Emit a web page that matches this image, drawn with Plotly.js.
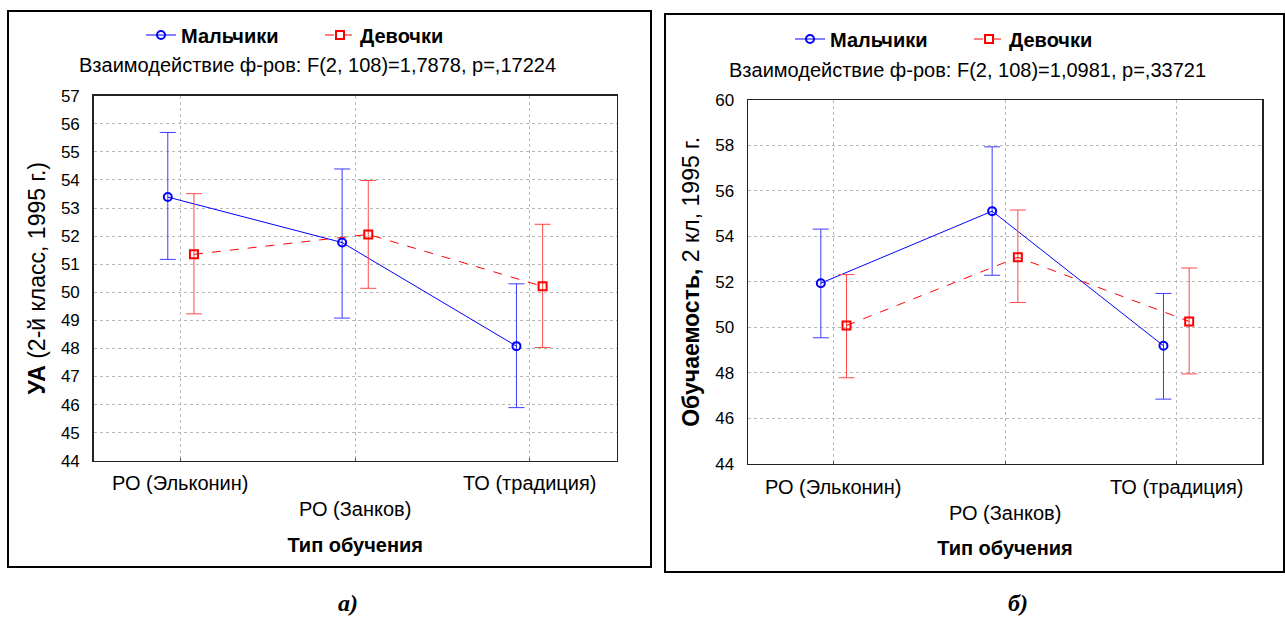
<!DOCTYPE html>
<html>
<head>
<meta charset="utf-8">
<script src="https://cdn.plot.ly/plotly-3.0.1.min.js"></script>
<style>html,body{margin:0;padding:0;background:#fff;}#chart{width:1285px;height:620px;}</style>
</head>
<body>
<div id="chart"></div>
<script>
// ---- data ----
const categories = ['РО (Эльконин)', 'РО (Занков)', 'ТО (традиция)'];
const seriesNames = ['Мальчики', 'Девочки'];

// Panel a) УА (2-й класс, 1995 г.)
const boysUA     = [53.39, 51.77, 48.08];
const boysUAHi   = [55.69, 54.39, 50.30];
const boysUALo   = [51.17, 49.08, 45.89];
const girlsUA    = [51.35, 52.06, 50.21];
const girlsUAHi  = [53.51, 53.98, 52.42];
const girlsUALo  = [49.23, 50.14, 48.03];

// Panel б) Обучаемость, 2 кл, 1995 г.
const boysOb     = [51.94, 55.11, 49.19];
const boysObHi   = [54.32, 57.94, 51.49];
const boysObLo   = [49.54, 52.29, 46.84];
const girlsOb    = [50.08, 53.08, 50.26];
const girlsObHi  = [52.32, 55.16, 52.61];
const girlsObLo  = [47.78, 51.09, 47.95];

const subtitleA = 'Взаимодействие ф-ров: F(2, 108)=1,7878, p=,17224';
const subtitleB = 'Взаимодействие ф-ров: F(2, 108)=1,0981, p=,33721';
const yTitleA = '<b>УА</b> (2-й класс, 1995 г.)';
const yTitleB = '<b>Обучаемость,</b> 2 кл, 1995 г.';
const xTitle = '<b>Тип обучения</b>';
const captions = ['а)', 'б)'];

// ---- helpers ----
const W = 1285, H = 620;
const px = v => v / W;
const py = v => 1 - v / H;
const FONT = 'Liberation Sans, Arial, sans-serif';
const SERIF = 'Liberation Serif, Times New Roman, serif';
const idx = categories.map((c, i) => i);
const OFF = 0.075;

function mk(name, mean, hi, lo, side, xa, ya, leg, isBoy) {
  const color = isBoy ? '#0000ff' : '#ff0000';
  return {
    type: 'scatter', mode: 'lines+markers', name: name,
    x: idx.map(i => i + side * OFF), y: mean,
    xaxis: xa, yaxis: ya, legend: leg,
    line: {color: color, width: 1, dash: isBoy ? 'solid' : 'dash'},
    marker: {symbol: isBoy ? 'circle-open' : 'square-open', size: 8, color: color, line: {width: 2, color: color}},
    error_y: {type: 'data', symmetric: false,
      array: hi.map((h, i) => h - mean[i]),
      arrayminus: lo.map((l, i) => mean[i] - l),
      color: isBoy ? '#3c3cff' : '#ff4848', thickness: 1, width: 8},
    hoverinfo: 'x+y'
  };
}

const traces = [
  mk(seriesNames[0], boysUA, boysUAHi, boysUALo, -1, 'x', 'y', 'legend', true),
  mk(seriesNames[1], girlsUA, girlsUAHi, girlsUALo, 1, 'x', 'y', 'legend', false),
  mk(seriesNames[0], boysOb, boysObHi, boysObLo, -1, 'x2', 'y2', 'legend2', true),
  mk(seriesNames[1], girlsOb, girlsObHi, girlsObLo, 1, 'x2', 'y2', 'legend2', false)
];

function xaxis(domain, anchor) {
  return {domain: domain, anchor: anchor, range: [-0.5, 2.5], tickvals: idx, showticklabels: false,
    showgrid: true, gridcolor: '#b8b8b8', griddash: 'dot', gridwidth: 1,
    showline: true, linecolor: '#222', linewidth: 1.5, mirror: true, zeroline: false,
    ticks: 'inside', ticklen: 3, tickcolor: '#555',
    title: {text: xTitle, font: {family: FONT, size: 20, color: '#000'}, standoff: 77}};
}
function yaxis(domain, anchor, range, dtick, title) {
  return {domain: domain, anchor: anchor, range: range, dtick: dtick,
    showgrid: true, gridcolor: '#b8b8b8', griddash: 'dot', gridwidth: 1,
    showline: true, linecolor: '#222', linewidth: 1.5, mirror: true, zeroline: false,
    ticks: '', ticklabelstandoff: 9,
    tickfont: {family: FONT, size: 17, color: '#000'},
    title: {text: title, font: {family: FONT, size: 23, color: '#000'}, standoff: 9}};
}

const annotations = [];
function tickAnn(xref, yBase) {
  categories.forEach((c, i) => {
    annotations.push({xref: xref, yref: 'paper', x: i, y: py(yBase + (i % 2) * 26), text: c,
      showarrow: false, xanchor: 'center', yanchor: 'middle',
      font: {family: FONT, size: 20, color: '#000'}});
  });
}
tickAnn('x', 483);
tickAnn('x2', 487);
annotations.push({xref: 'paper', yref: 'paper', x: px(317), y: py(65), text: subtitleA, showarrow: false,
  xanchor: 'center', yanchor: 'middle', font: {family: FONT, size: 20, color: '#000'}});
annotations.push({xref: 'paper', yref: 'paper', x: px(967), y: py(70), text: subtitleB, showarrow: false,
  xanchor: 'center', yanchor: 'middle', font: {family: FONT, size: 20, color: '#000'}});
[[348, captions[0]], [1018, captions[1]]].forEach(([cx, t]) => {
  annotations.push({xref: 'paper', yref: 'paper', x: px(cx), y: py(603), text: t, showarrow: false,
    xanchor: 'center', yanchor: 'middle',
    font: {family: SERIF, size: 24, color: '#000', weight: 'bold', style: 'italic'}});
});

const legendBase = {orientation: 'h', xanchor: 'left', yanchor: 'middle', bgcolor: 'rgba(0,0,0,0)',
  font: {family: FONT, size: 20, color: '#000', weight: 'bold'}, entrywidth: 134, entrywidthmode: 'pixels',
  itemclick: false, itemdoubleclick: false};

const layout = {
  width: W, height: H, margin: {l: 0, r: 0, t: 0, b: 0}, autosize: false,
  paper_bgcolor: '#fff', plot_bgcolor: '#fff', showlegend: true,
  xaxis: xaxis([px(93.7), px(616.7)], 'y'),
  yaxis: yaxis([py(460.7), py(95.7)], 'x', [44, 57], 1, yTitleA),
  xaxis2: xaxis([px(748), px(1262)], 'y2'),
  yaxis2: yaxis([py(463.7), py(100)], 'x2', [44, 60], 2, yTitleB),
  legend: Object.assign({x: px(141), y: py(35)}, legendBase),
  legend2: Object.assign({x: px(790), y: py(39)}, legendBase),
  annotations: annotations,
  shapes: [
    {type: 'rect', xref: 'paper', yref: 'paper', x0: px(8), x1: px(651), y0: py(567), y1: py(11), line: {color: '#000', width: 2}},
    {type: 'rect', xref: 'paper', yref: 'paper', x0: px(665), x1: px(1284), y0: py(572), y1: py(14), line: {color: '#000', width: 2}}
  ]
};

Plotly.newPlot('chart', traces, layout, {staticPlot: true, displayModeBar: false});
</script>
</body>
</html>
